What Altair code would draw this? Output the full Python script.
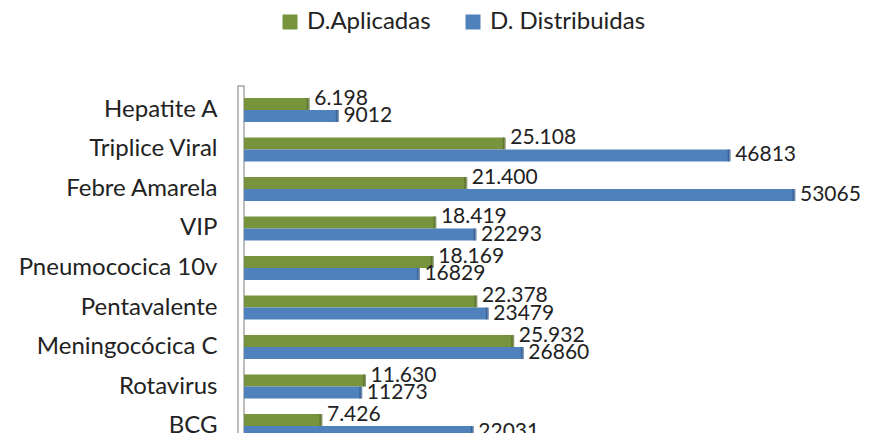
import altair as alt
import pandas as pd

categories = ["Hepatite A", "Triplice Viral", "Febre Amarela", "VIP", "Pneumococica 10v",
              "Pentavalente", "Meningocócica C", "Rotavirus", "BCG"]
aplicadas = [6198, 25108, 21400, 18419, 18169, 22378, 25932, 11630, 7426]
distribuidas = [9012, 46813, 53065, 22293, 16829, 23479, 26860, 11273, 22031]
series_names = ["D.Aplicadas", "D. Distribuidas"]
colors = ["#77933C", "#4F81BD"]
dark_colors = ["#566B2A", "#33598A"]

rows = []
for c, a, d in zip(categories, aplicadas, distribuidas):
    rows.append({"cat": c, "series": series_names[0], "value": a,
                 "label": f"{a:,}".replace(",", ".")})
    rows.append({"cat": c, "series": series_names[1], "value": d,
                 "label": str(d)})
df = pd.DataFrame(rows)

FONT = "Lato"
W, H = 570, 343

yenc = alt.Y("cat:N", sort=categories,
             scale=alt.Scale(range=[0, 356], paddingInner=0.39, paddingOuter=0.2),
             axis=alt.Axis(title=None, ticks=False, domain=False, labelFont=FONT,
                           labelFontSize=24, labelColor="#222222", labelPadding=27,
                           labelLimit=400))
yoff = alt.YOffset("series:N", sort=series_names)
xenc = alt.X("value:Q", scale=alt.Scale(domain=[0, 55000], nice=False), axis=None)

base = alt.Chart(df)

wall = alt.Chart(pd.DataFrame({"a": [0]})).mark_rect(
    fill="white", stroke="#A6A6A6", strokeWidth=1.5
).encode(x=alt.value(-6), x2=alt.value(0), y=alt.value(-4), y2=alt.value(400))

bars = base.mark_bar(height={"band": 1}).encode(
    x=xenc, y=yenc, yOffset=yoff,
    color=alt.Color("series:N", sort=series_names,
                    scale=alt.Scale(domain=series_names, range=colors),
                    legend=alt.Legend(title=None, orient="none", direction="horizontal",
                                      legendX=34, legendY=-80, symbolType="square",
                                      symbolSize=225, symbolStrokeWidth=0,
                                      labelFont=FONT, labelFontSize=24,
                                      labelColor="#222222", columnPadding=30,
                                      symbolOffset=0, labelOffset=5))
)

caps = base.mark_tick(orient="vertical", thickness=3, size=12).encode(
    x=xenc, y=yenc, yOffset=yoff,
    color=alt.Color("series:N", sort=series_names,
                    scale=alt.Scale(domain=series_names, range=dark_colors), legend=None)
)

labels_a = base.transform_filter(alt.datum.series == series_names[0]).mark_text(
    align="left", baseline="middle", dx=6, dy=-5, font=FONT, fontSize=21, color="#222222"
).encode(x=xenc, y=yenc, yOffset=yoff, text="label:N")

labels_d = base.transform_filter(alt.datum.series == series_names[1]).mark_text(
    align="left", baseline="middle", dx=6, dy=0, font=FONT, fontSize=21, color="#222222"
).encode(x=xenc, y=yenc, yOffset=yoff, text="label:N")

chart = alt.layer(wall, bars, caps, labels_a, labels_d).resolve_scale(
    color="independent"
).properties(
    width=W, height=H,
    autosize=alt.AutoSizeParams(type="none"),
    padding={"left": 236, "top": 82, "right": 49, "bottom": 0},
    background="white",
).configure_view(stroke=None)

chart.save("out.html", embed_options={"renderer": "svg", "actions": False})
